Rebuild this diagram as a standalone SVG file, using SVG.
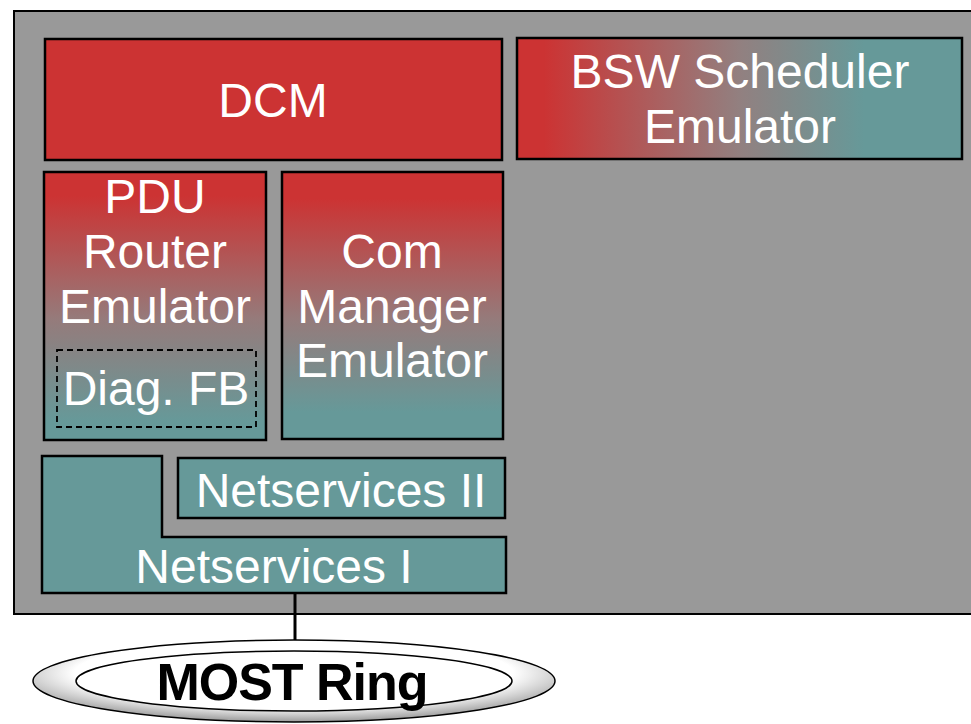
<svg xmlns="http://www.w3.org/2000/svg" width="971" height="724" viewBox="0 0 971 724">
<defs>
<linearGradient id="gH" x1="0" y1="0" x2="1" y2="0">
<stop offset="0.06" stop-color="#CC3333"/>
<stop offset="0.5" stop-color="#928080"/>
<stop offset="0.78" stop-color="#669999"/>
</linearGradient>
<linearGradient id="gV1" x1="0" y1="0" x2="0" y2="1">
<stop offset="0.09" stop-color="#CC3333"/>
<stop offset="0.55" stop-color="#957b7b"/>
<stop offset="0.93" stop-color="#669999"/>
</linearGradient>
<linearGradient id="gV2" x1="0" y1="0" x2="0" y2="1">
<stop offset="0.1" stop-color="#CC3333"/>
<stop offset="0.55" stop-color="#957b7b"/>
<stop offset="0.9" stop-color="#669999"/>
</linearGradient>
<radialGradient id="gRing" cx="0.5" cy="0.4" r="0.6">
<stop offset="0.7" stop-color="#ffffff"/>
<stop offset="1" stop-color="#9a9a9a"/>
</radialGradient>
<style>
.box{stroke:#000;stroke-width:2.5}
.t{font-family:"Liberation Sans",Arial,sans-serif;font-size:48px;fill:#fff;text-anchor:middle}
.tb{font-family:"Liberation Sans",Arial,sans-serif;font-size:52px;font-weight:bold;fill:#000;text-anchor:middle}
</style>
</defs>
<rect id="frame" x="14" y="11" width="962" height="603" fill="#999999" stroke="#000" stroke-width="2"/>
<g id="connectors">
<line x1="295" y1="593" x2="295" y2="641" stroke="#000" stroke-width="3"/>
</g>
<g id="dcm">
<rect class="box" x="45" y="39" width="457" height="121" fill="#CC3333"/>
<text class="t" x="273" y="117">DCM</text>
</g>
<g id="bsw">
<rect class="box" x="517" y="38" width="445" height="121" fill="url(#gH)"/>
<text class="t" x="740" y="88">BSW Scheduler</text>
<text class="t" x="740" y="143">Emulator</text>
</g>
<g id="pdu">
<rect class="box" x="44" y="172" width="222" height="268" fill="url(#gV1)"/>
<text class="t" x="155" y="213">PDU</text>
<text class="t" x="155" y="268">Router</text>
<text class="t" x="155" y="323">Emulator</text>
</g>
<g id="diagfb">
<rect x="57" y="350" width="199" height="77" fill="none" stroke="#000" stroke-width="1.8" stroke-dasharray="6,4"/>
<text class="t" x="156" y="405">Diag. FB</text>
</g>
<g id="com">
<rect class="box" x="282" y="172" width="221" height="267" fill="url(#gV2)"/>
<text class="t" x="392" y="268">Com</text>
<text class="t" x="392" y="323">Manager</text>
<text class="t" x="392" y="377">Emulator</text>
</g>
<g id="ns2">
<rect class="box" x="178" y="458" width="327" height="60" fill="#669999"/>
<text class="t" x="341" y="507">Netservices II</text>
</g>
<g id="ns1">
<polygon class="box" points="42,456 162,456 162,537 506,537 506,593 42,593" fill="#669999"/>
<text class="t" x="274" y="583">Netservices I</text>
</g>
<g id="most">
<ellipse cx="294" cy="681" rx="261" ry="41" fill="url(#gRing)" stroke="#000" stroke-width="1.5"/>
<ellipse cx="294" cy="681" rx="218" ry="30" fill="#fff" stroke="#000" stroke-width="1.5"/>
<text class="tb" x="292" y="700" letter-spacing="-1">MOST Ring</text>
</g>
</svg>
